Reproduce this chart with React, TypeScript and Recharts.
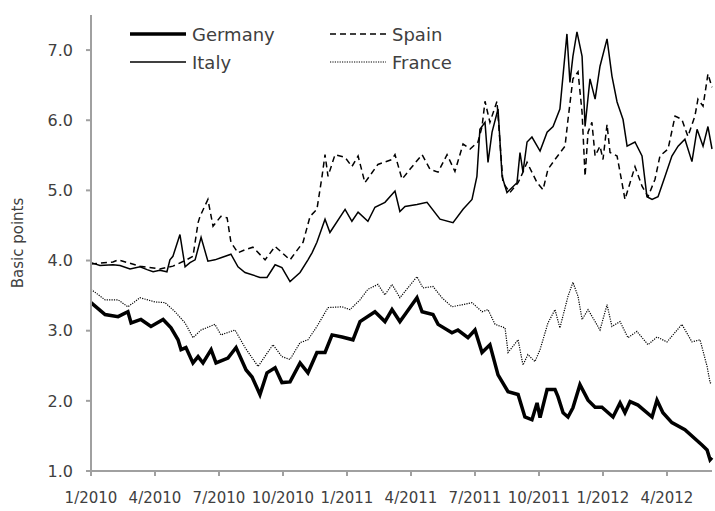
import { LineChart, Line, XAxis, YAxis } from "recharts"

// [months since 1/2010, value]
const germany: [number, number][] = [
  [0, 3.40], [0.66, 3.23], [1.27, 3.20], [1.73, 3.27], [1.88, 3.11], [2.34, 3.16], [2.81, 3.06], [3.38, 3.16],
  [3.75, 3.04], [4.08, 2.87], [4.22, 2.73], [4.45, 2.76], [4.78, 2.54], [5.02, 2.63], [5.25, 2.54], [5.63, 2.73],
  [5.86, 2.54], [6.42, 2.61], [6.8, 2.76], [7.27, 2.44], [7.55, 2.34], [7.92, 2.09], [8.25, 2.40], [8.63, 2.47],
  [8.95, 2.26], [9.33, 2.27], [9.8, 2.54], [10.17, 2.40], [10.59, 2.69], [10.97, 2.69], [11.3, 2.94], [11.77, 2.91],
  [12.28, 2.87], [12.61, 3.13], [13.31, 3.27], [13.78, 3.13], [14.11, 3.30], [14.48, 3.13], [14.72, 3.23], [15.28, 3.47],
  [15.52, 3.27], [16.03, 3.23], [16.27, 3.09], [16.92, 2.97], [17.2, 3.01], [17.67, 2.90], [18.0, 3.01], [18.33, 2.69],
  [18.7, 2.80], [19.08, 2.37], [19.55, 2.13], [20.02, 2.09], [20.34, 1.77], [20.67, 1.73], [20.91, 1.97], [21.05, 1.76],
  [21.38, 2.16], [21.75, 2.16], [21.89, 2.06], [22.13, 1.83], [22.36, 1.77], [22.59, 1.90], [22.92, 2.23], [23.3, 2.01],
  [23.63, 1.91], [23.95, 1.91], [24.47, 1.77], [24.8, 1.97], [25.03, 1.83], [25.27, 1.99], [25.64, 1.94], [26.3, 1.77],
  [26.53, 2.01], [26.81, 1.83], [27.23, 1.69], [27.84, 1.59], [28.64, 1.37], [28.88, 1.30], [29.02, 1.16], [29.11, 1.19],
]

const italy: [number, number][] = [
  [0, 3.97], [0.42, 3.93], [1.03, 3.94], [1.36, 3.93], [1.83, 3.88], [2.3, 3.91], [2.63, 3.87], [2.91, 3.84],
  [3.23, 3.86], [3.56, 3.84], [3.7, 4.01], [3.84, 4.06], [4.17, 4.37], [4.41, 3.91], [4.64, 3.97], [4.88, 4.01],
  [5.16, 4.33], [5.48, 3.99], [5.81, 4.01], [6.09, 4.04], [6.56, 4.09], [6.89, 3.91], [7.22, 3.83], [7.92, 3.76],
  [8.25, 3.76], [8.63, 3.94], [8.95, 3.90], [9.33, 3.70], [9.8, 3.83], [10.17, 4.01], [10.36, 4.11], [10.59, 4.26],
  [10.97, 4.59], [11.2, 4.40], [11.91, 4.73], [12.23, 4.56], [12.52, 4.69], [12.98, 4.56], [13.31, 4.76], [13.78, 4.83],
  [14.25, 4.99], [14.48, 4.70], [14.72, 4.77], [15.28, 4.80], [15.75, 4.83], [16.36, 4.59], [16.97, 4.54], [17.44, 4.73],
  [17.86, 4.87], [18.09, 5.20], [18.23, 5.87], [18.47, 5.97], [18.61, 5.40], [18.8, 5.83], [19.08, 6.16], [19.27, 5.20],
  [19.5, 4.97], [19.97, 5.11], [20.11, 5.54], [20.25, 5.26], [20.44, 5.69], [20.67, 5.76], [21.05, 5.56], [21.38, 5.83],
  [21.66, 5.91], [21.98, 6.16], [22.31, 7.23], [22.45, 6.54], [22.59, 6.91], [22.78, 7.26], [23.02, 6.91], [23.16, 5.91],
  [23.39, 6.59], [23.63, 6.30], [23.86, 6.77], [24.19, 7.16], [24.42, 6.63], [24.66, 6.26], [24.94, 6.01], [25.13, 5.63],
  [25.5, 5.69], [25.83, 5.49], [26.06, 4.91], [26.3, 4.87], [26.58, 4.91], [26.91, 5.20], [27.23, 5.49], [27.52, 5.63],
  [27.84, 5.73], [28.17, 5.41], [28.41, 5.87], [28.69, 5.63], [28.92, 5.91], [29.11, 5.59],
]

const spain: [number, number][] = [
  [0, 3.95], [1.03, 3.98], [1.27, 4.01], [2.3, 3.92], [3.23, 3.88], [3.84, 3.92], [4.41, 4.00], [4.78, 4.06],
  [5.02, 4.54], [5.11, 4.63], [5.48, 4.87], [5.72, 4.49], [6.09, 4.63], [6.38, 4.61], [6.56, 4.26], [6.89, 4.11],
  [7.27, 4.16], [7.59, 4.19], [8.16, 4.01], [8.63, 4.20], [9.33, 4.01], [9.94, 4.26], [10.27, 4.63], [10.59, 4.73],
  [10.83, 5.20], [10.97, 5.51], [11.11, 5.20], [11.44, 5.51], [11.91, 5.47], [12.23, 5.34], [12.52, 5.49], [12.84, 5.11],
  [13.45, 5.37], [14.11, 5.44], [14.25, 5.51], [14.58, 5.16], [14.95, 5.30], [15.52, 5.51], [15.89, 5.30], [16.27, 5.26],
  [16.69, 5.51], [17.06, 5.27], [17.44, 5.66], [17.77, 5.59], [18.14, 5.69], [18.33, 5.91], [18.47, 6.27], [18.7, 5.97],
  [19.03, 6.27], [19.31, 5.11], [19.64, 4.97], [20.02, 5.11], [20.25, 5.26], [20.44, 5.40], [20.91, 5.11], [21.19, 5.01],
  [21.42, 5.30], [21.75, 5.44], [22.22, 5.63], [22.36, 6.01], [22.59, 6.59], [22.83, 6.69], [23.02, 6.11], [23.16, 5.20],
  [23.3, 5.83], [23.48, 5.97], [23.63, 5.49], [23.86, 5.63], [24.0, 5.44], [24.19, 5.94], [24.33, 5.54], [24.66, 5.49],
  [24.89, 5.11], [25.03, 4.87], [25.36, 5.20], [25.5, 5.34], [25.83, 5.06], [26.11, 4.91], [26.44, 5.16], [26.67, 5.49],
  [27.05, 5.59], [27.38, 6.06], [27.7, 6.01], [27.98, 5.77], [28.31, 6.06], [28.45, 6.30], [28.69, 6.20], [28.92, 6.66],
  [29.11, 6.47],
]

const france: [number, number][] = [
  [0, 3.59], [0.66, 3.44], [1.27, 3.44], [1.73, 3.34], [2.3, 3.47], [3.0, 3.41], [3.47, 3.40], [3.94, 3.27],
  [4.41, 3.11], [4.78, 2.90], [5.16, 3.01], [5.81, 3.09], [6.09, 2.94], [6.75, 3.01], [7.22, 2.76], [7.83, 2.49],
  [8.53, 2.80], [8.95, 2.63], [9.33, 2.59], [9.8, 2.83], [10.17, 2.87], [10.59, 3.06], [11.11, 3.33], [11.77, 3.34],
  [12.14, 3.30], [12.61, 3.44], [12.98, 3.59], [13.45, 3.66], [13.78, 3.51], [14.11, 3.66], [14.48, 3.47], [15.28, 3.77],
  [15.56, 3.61], [16.03, 3.63], [16.45, 3.47], [16.92, 3.34], [17.86, 3.40], [18.33, 3.27], [18.61, 3.30], [18.94, 3.09],
  [19.41, 3.04], [19.55, 2.69], [20.02, 2.87], [20.25, 2.51], [20.48, 2.66], [20.81, 2.56], [21.05, 2.73], [21.42, 3.11],
  [21.75, 3.30], [21.98, 3.04], [22.36, 3.49], [22.59, 3.69], [22.83, 3.49], [23.02, 3.16], [23.3, 3.30], [23.63, 3.13],
  [23.86, 3.01], [24.19, 3.37], [24.42, 3.06], [24.8, 3.13], [25.17, 2.90], [25.59, 2.99], [26.11, 2.80], [26.53, 2.91],
  [27.0, 2.84], [27.7, 3.09], [28.17, 2.84], [28.55, 2.87], [28.88, 2.49], [29.02, 2.26], [29.11, 2.24],
]

const tickMonths = [0, 3, 6, 9, 12, 15, 18, 21, 24, 27]
const tickLabels = ["1/2010", "4/2010", "7/2010", "10/2010", "1/2011", "4/2011", "7/2011", "10/2011", "1/2012", "4/2012"]
const yTicks = [1, 2, 3, 4, 5, 6, 7]

const font = "'DejaVu Sans', sans-serif"
const textColor = "#404040"
const axisColor = "#a0a0a0"

const series = [
  { name: "Germany", points: germany, width: 3.5, dash: undefined as string | undefined },
  { name: "Italy", points: italy, width: 1.5, dash: undefined as string | undefined },
  { name: "Spain", points: spain, width: 1.5, dash: "6 4" },
  { name: "France", points: france, width: 1.2, dash: "1.2 1.2" },
]

function LegendBox() {
  return (
    <div
      style={{
        position: "absolute",
        left: 130,
        top: 23,
        display: "grid",
        gridTemplateColumns: "200px 140px",
        rowGap: 6,
        fontFamily: font,
        fontSize: 18,
        color: textColor,
      }}
    >
      {[series[0], series[2], series[1], series[3]].map((s) => (
        <div key={s.name} style={{ display: "flex", alignItems: "center", height: 22 }}>
          <svg width={56} height={10} style={{ marginRight: 6 }}>
            <line x1={0} x2={56} y1={5} y2={5} stroke="#000" strokeWidth={s.width} strokeDasharray={s.dash} />
          </svg>
          <span>{s.name}</span>
        </div>
      ))}
    </div>
  )
}

export default function App() {
  return (
    <div style={{ position: "absolute", left: 0, top: 0, width: 715, height: 511, background: "#fff" }}>
      <LineChart width={715} height={511} margin={{ top: 15, right: 3, bottom: 0, left: 0 }} style={{ fontFamily: font }}>
        <XAxis
          type="number"
          dataKey="m"
          domain={[0, 29.11]}
          ticks={tickMonths}
          interval={0}
          tickFormatter={(v: number) => tickLabels[tickMonths.indexOf(v)]}
          height={40}
          tickSize={5}
          tickMargin={16}
          stroke={axisColor}
          strokeWidth={2}
          tick={{ fill: textColor, fontSize: 15 }}
        />
        <YAxis
          type="number"
          domain={[1, 7.5]}
          ticks={yTicks}
          interval={0}
          tickFormatter={(v: number) => v.toFixed(1)}
          width={91}
          tickSize={5}
          tickMargin={13}
          stroke={axisColor}
          strokeWidth={2}
          tick={{ fill: textColor, fontSize: 16 }}
          label={{
            content: ({ viewBox }: any) => {
              const cx = 18
              const cy = viewBox.y + viewBox.height / 2
              return (
                <text
                  x={cx}
                  y={cy}
                  transform={`rotate(-90, ${cx}, ${cy})`}
                  textAnchor="middle"
                  dominantBaseline="central"
                  fill={textColor}
                  fontSize={15}
                  fontFamily={font}
                >
                  Basic points
                </text>
              )
            },
          }}
        />
        {series.map((s) => (
          <Line
            key={s.name}
            data={s.points.map(([m, v]) => ({ m, v }))}
            dataKey="v"
            name={s.name}
            type="linear"
            stroke="#000"
            strokeWidth={s.width}
            strokeDasharray={s.dash}
            dot={false}
            isAnimationActive={false}
          />
        ))}
      </LineChart>
      <LegendBox />
    </div>
  )
}
